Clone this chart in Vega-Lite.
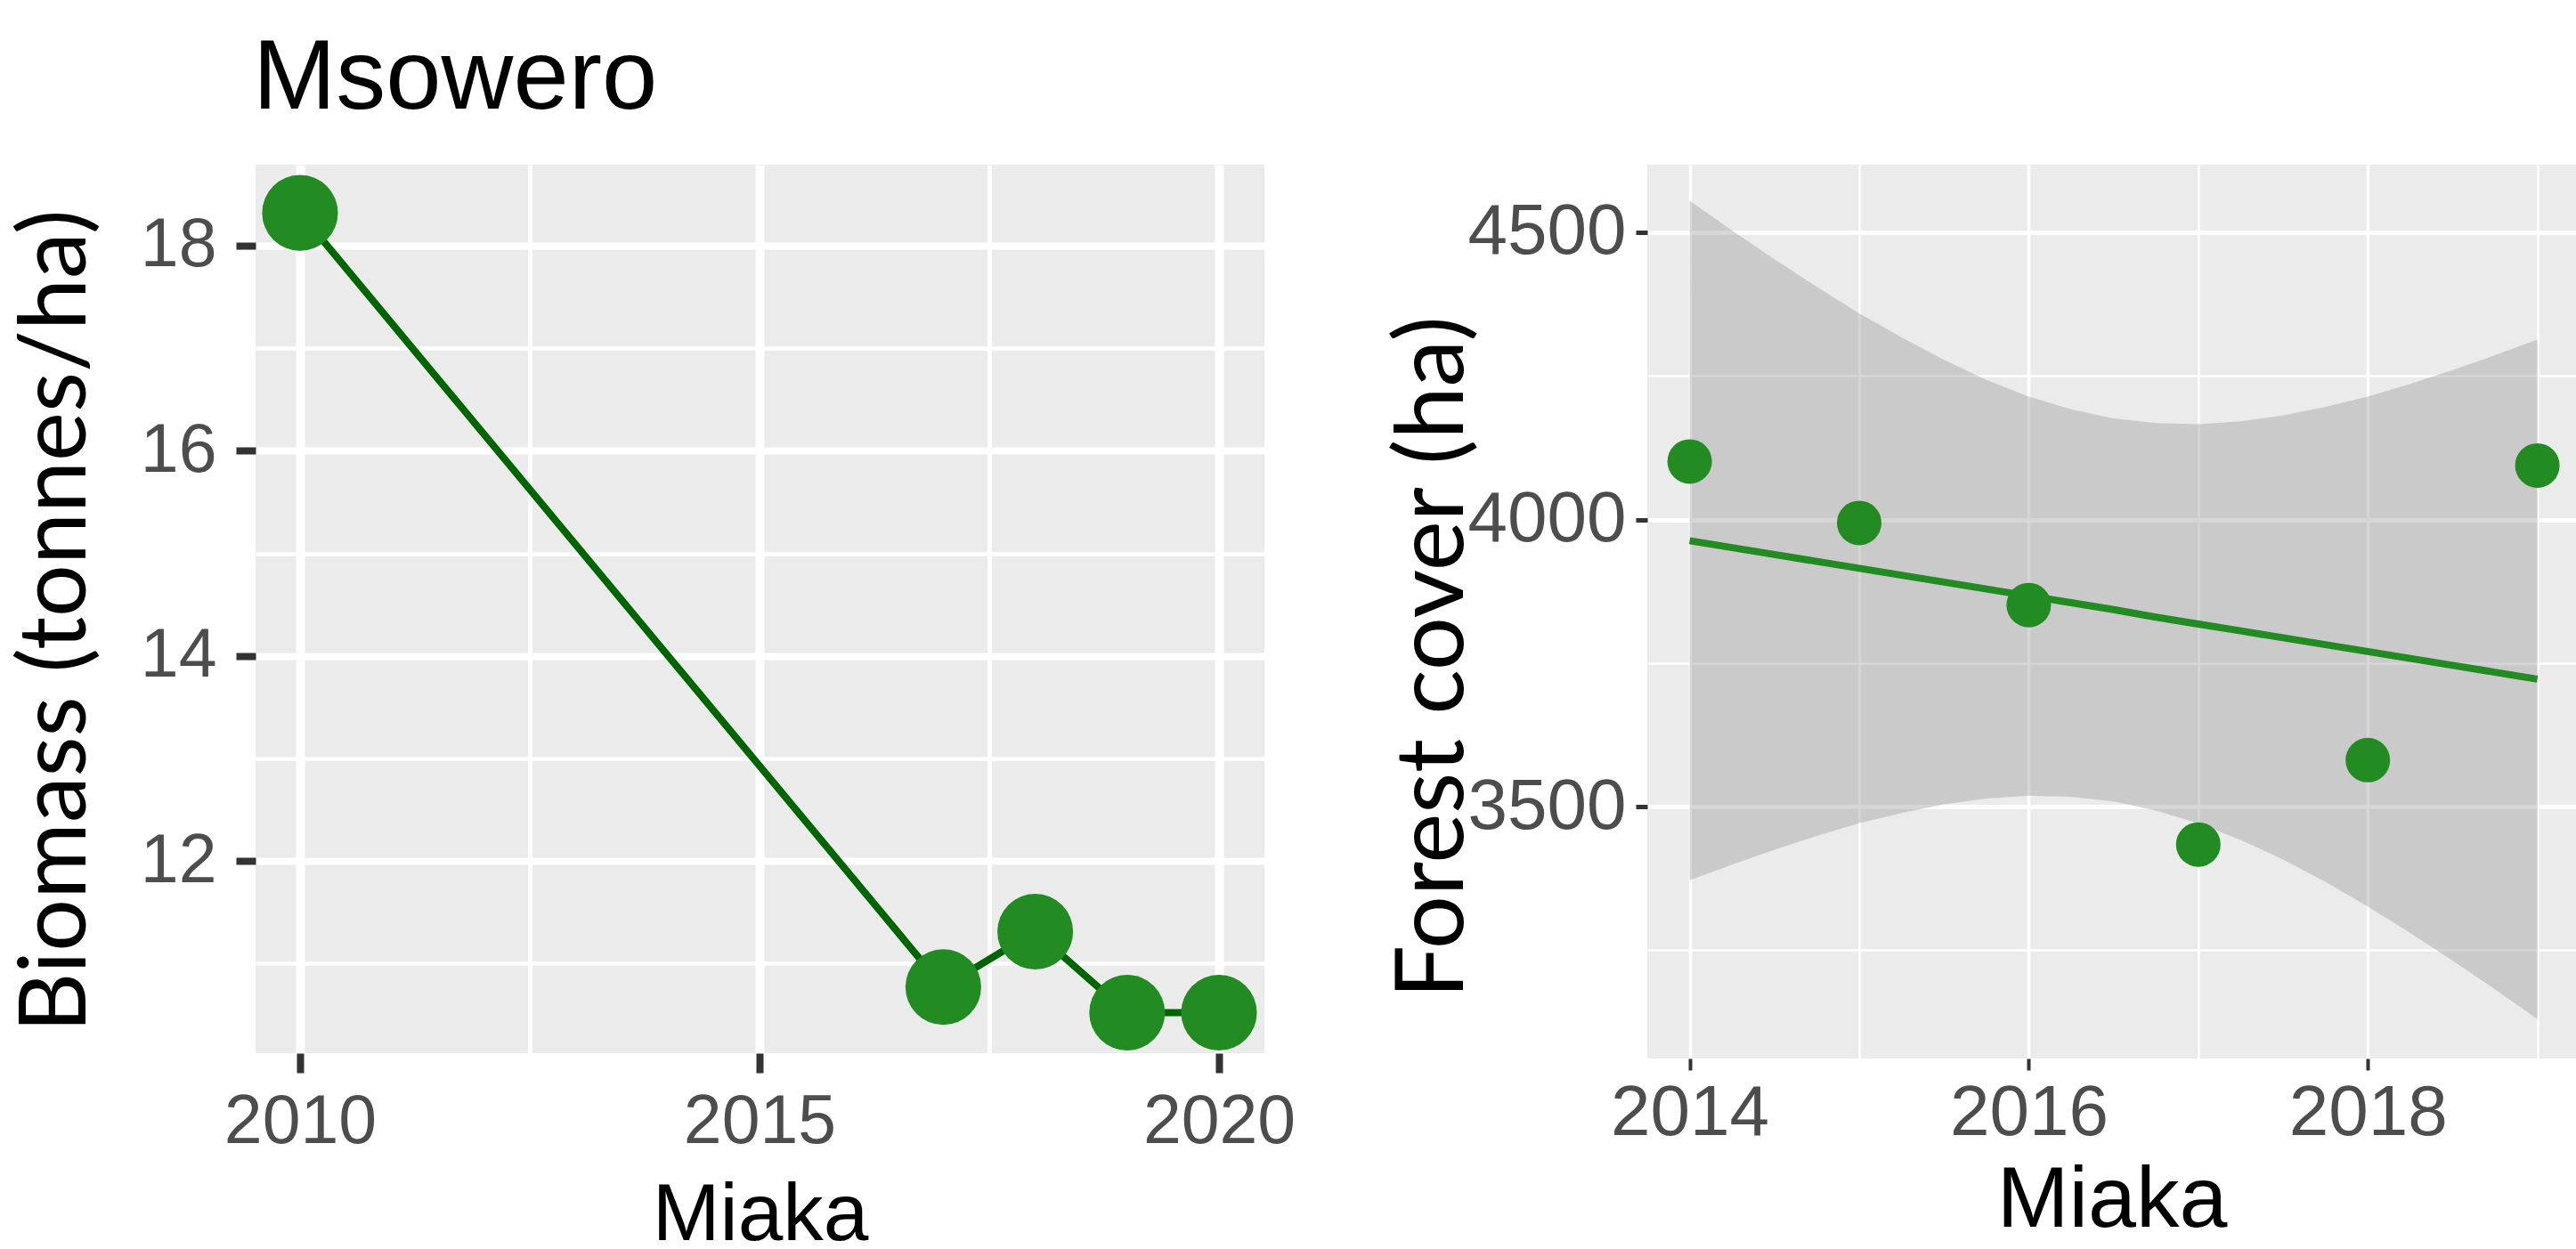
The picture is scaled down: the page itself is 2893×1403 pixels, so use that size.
{
  "$schema": "https://vega.github.io/schema/vega-lite/v6.json",
  "autosize": {"type": "none"},
  "padding": {"left": 287, "top": 185, "right": 2606, "bottom": 1218},
  "background": "white",
  "bounds": "flush",
  "spacing": 430,
  "config": {"view": {"stroke": null}},
  "datasets": {
    "biomass": [
      {"year": 2010, "biomass": 18.32},
      {"year": 2017, "biomass": 10.77},
      {"year": 2018, "biomass": 11.31},
      {"year": 2019, "biomass": 10.52},
      {"year": 2020, "biomass": 10.52}
    ],
    "forest": [
      {"year": 2014, "cover": 4101},
      {"year": 2015, "cover": 3994},
      {"year": 2016, "cover": 3851},
      {"year": 2017, "cover": 3434},
      {"year": 2018, "cover": 3581},
      {"year": 2019, "cover": 4094}
    ],
    "band": [
      {"year": 2014, "lo": 3372, "hi": 4555, "fit": 3963},
      {"year": 2014.25, "lo": 3399, "hi": 4503, "fit": 3951},
      {"year": 2014.5, "lo": 3425, "hi": 4453, "fit": 3939},
      {"year": 2014.75, "lo": 3449, "hi": 4405, "fit": 3927},
      {"year": 2015, "lo": 3471, "hi": 4359, "fit": 3915},
      {"year": 2015.25, "lo": 3489, "hi": 4317, "fit": 3903},
      {"year": 2015.5, "lo": 3504, "hi": 4278, "fit": 3891},
      {"year": 2015.75, "lo": 3514, "hi": 4243, "fit": 3879},
      {"year": 2016, "lo": 3519, "hi": 4214, "fit": 3867},
      {"year": 2016.25, "lo": 3517, "hi": 4192, "fit": 3855},
      {"year": 2016.5, "lo": 3509, "hi": 4176, "fit": 3843},
      {"year": 2016.75, "lo": 3493, "hi": 4168, "fit": 3830},
      {"year": 2017, "lo": 3471, "hi": 4166, "fit": 3818},
      {"year": 2017.25, "lo": 3442, "hi": 4171, "fit": 3806},
      {"year": 2017.5, "lo": 3408, "hi": 4181, "fit": 3794},
      {"year": 2017.75, "lo": 3369, "hi": 4196, "fit": 3782},
      {"year": 2018, "lo": 3326, "hi": 4214, "fit": 3770},
      {"year": 2018.25, "lo": 3280, "hi": 4236, "fit": 3758},
      {"year": 2018.5, "lo": 3232, "hi": 4260, "fit": 3746},
      {"year": 2018.75, "lo": 3182, "hi": 4286, "fit": 3734},
      {"year": 2019, "lo": 3130, "hi": 4313, "fit": 3722}
    ]
  },
  "hconcat": [
    {
      "width": 1133,
      "height": 998,
      "view": {"fill": "#EBEBEB", "stroke": null},
      "title": {
        "text": "Msowero",
        "anchor": "start",
        "frame": "group",
        "font": "Liberation Sans",
        "fontSize": 112,
        "fontWeight": "normal",
        "color": "black",
        "baseline": "alphabetic",
        "offset": -49,
        "dx": -3
      },
      "data": {"name": "biomass"},
      "encoding": {
        "x": {
          "field": "year",
          "type": "quantitative",
          "scale": {"domain": [2009.516, 2020.494], "nice": false, "zero": false},
          "axis": {
            "values": [2010, 2012.5, 2015, 2017.5, 2020],
            "format": "d",
            "labelExpr": "datum.value % 5 == 0 ? datum.label : ''",
            "domain": false,
            "grid": true,
            "gridColor": "white",
            "gridOpacity": 1,
            "gridWidth": {"condition": {"test": "datum.value % 5 != 0", "value": 5}, "value": 10},
            "ticks": true,
            "tickSize": 22,
            "tickWidth": 8,
            "tickColor": "#333333",
            "tickOpacity": {"condition": {"test": "datum.value % 5 != 0", "value": 0}, "value": 1},
            "labelFont": "Liberation Sans",
            "labelFontSize": 77,
            "labelColor": "#4D4D4D",
            "labelPadding": 17,
            "labelOverlap": false,
            "labelFlush": false,
            "title": "Miaka",
            "titleFont": "Liberation Sans",
            "titleFontSize": 91,
            "titleFontWeight": "normal",
            "titleColor": "black",
            "titleBaseline": "alphabetic",
            "titleY": 209
          }
        },
        "y": {
          "field": "biomass",
          "type": "quantitative",
          "scale": {"domain": [10.125, 18.79], "nice": false, "zero": false},
          "axis": {
            "values": [11, 12, 13, 14, 15, 16, 17, 18],
            "labelExpr": "datum.value % 2 == 0 ? datum.label : ''",
            "domain": false,
            "grid": true,
            "gridColor": "white",
            "gridOpacity": 1,
            "gridWidth": {"condition": {"test": "datum.value % 2 == 1", "value": 4.5}, "value": 8},
            "ticks": true,
            "tickSize": 22,
            "tickWidth": 8,
            "tickColor": "#333333",
            "tickOpacity": {"condition": {"test": "datum.value % 2 == 1", "value": 0}, "value": 1},
            "labelFont": "Liberation Sans",
            "labelFontSize": 77,
            "labelColor": "#4D4D4D",
            "labelPadding": 22,
            "labelOverlap": false,
            "labelFlush": false,
            "title": "Biomass (tonnes/ha)",
            "titleFont": "Lato",
            "titleFontSize": 104,
            "titleFontWeight": "normal",
            "titleColor": "black",
            "titleAngle": 270,
            "titleBaseline": "alphabetic",
            "titleAlign": "center",
            "titleX": -192,
            "titleY": 512
          }
        }
      },
      "layer": [
        {"mark": {"type": "line", "color": "#006400", "strokeWidth": 8}},
        {"mark": {"type": "point", "filled": true, "color": "#228B22", "opacity": 1, "size": 7238, "clip": true}}
      ]
    },
    {
      "width": 1043,
      "height": 1004,
      "view": {"fill": "#EBEBEB", "stroke": null},
      "encoding": {
        "x": {
          "field": "year",
          "type": "quantitative",
          "scale": {"domain": [2013.75, 2019.228], "nice": false, "zero": false},
          "axis": {
            "values": [2014, 2015, 2016, 2017, 2018, 2019],
            "format": "d",
            "labelExpr": "datum.value % 2 == 0 ? datum.label : ''",
            "domain": false,
            "grid": true,
            "gridColor": "white",
            "gridOpacity": 1,
            "gridWidth": {"condition": {"test": "datum.value % 2 == 1", "value": 2.5}, "value": 3.5},
            "ticks": true,
            "tickSize": 13,
            "tickWidth": 4,
            "tickColor": "#333333",
            "tickOpacity": {"condition": {"test": "datum.value % 2 == 1", "value": 0}, "value": 1},
            "labelFont": "Liberation Sans",
            "labelFontSize": 80,
            "labelColor": "#4D4D4D",
            "labelPadding": 9,
            "labelOverlap": false,
            "labelFlush": false,
            "title": "Miaka",
            "titleFont": "Liberation Sans",
            "titleFontSize": 97,
            "titleFontWeight": "normal",
            "titleColor": "black",
            "titleBaseline": "alphabetic",
            "titleY": 188
          }
        }
      },
      "layer": [
        {
          "data": {"name": "band"},
          "mark": {"type": "area", "color": "#999999", "opacity": 0.4},
          "encoding": {
            "y": {
              "field": "lo",
              "type": "quantitative",
              "scale": {"domain": [3061.4, 4617.8], "nice": false, "zero": false},
              "axis": {
                "values": [3250, 3500, 3750, 4000, 4250, 4500],
                "format": "d",
                "labelExpr": "datum.value % 500 == 0 ? datum.label : ''",
                "domain": false,
                "grid": true,
                "gridColor": "white",
                "gridOpacity": 1,
                "gridWidth": {"condition": {"test": "datum.value % 500 != 0", "value": 2.5}, "value": 5},
                "ticks": true,
                "tickSize": 13,
                "tickWidth": 5,
                "tickColor": "#333333",
                "tickOpacity": {"condition": {"test": "datum.value % 500 != 0", "value": 0}, "value": 1},
                "labelFont": "Liberation Sans",
                "labelFontSize": 80,
                "labelColor": "#4D4D4D",
                "labelPadding": 11,
                "labelOverlap": false,
                "labelFlush": false,
                "title": "Forest cover (ha)",
                "titleFont": "Lato",
                "titleFontSize": 106,
                "titleFontWeight": "normal",
                "titleColor": "black",
                "titleAngle": 270,
                "titleBaseline": "alphabetic",
                "titleAlign": "center",
                "titleX": -208,
                "titleY": 553
              }
            },
            "y2": {"field": "hi"}
          }
        },
        {
          "data": {"name": "band"},
          "mark": {"type": "line", "color": "#228B22", "strokeWidth": 8},
          "encoding": {"y": {"field": "fit", "type": "quantitative"}}
        },
        {
          "data": {"name": "forest"},
          "mark": {"type": "point", "filled": true, "color": "#228B22", "opacity": 1, "size": 2500},
          "encoding": {"y": {"field": "cover", "type": "quantitative"}}
        }
      ]
    }
  ]
}
